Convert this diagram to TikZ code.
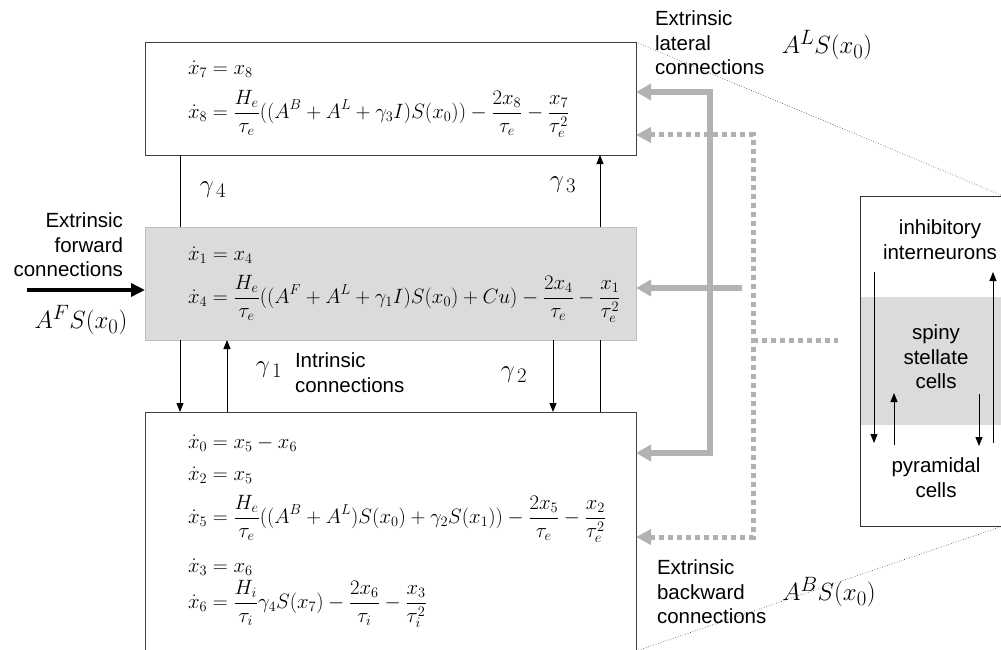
\documentclass[tikz,border=0pt]{standalone}
\usepackage{fontspec}
\newfontfamily\arial{Liberation Sans}
\usetikzlibrary{arrows.meta}
\begin{document}
\begin{tikzpicture}[x=1pt,y=-1pt,
  every node/.style={inner sep=0pt,outer sep=0pt},
  eqbox/.style={draw=black!75,line width=0.9pt,minimum width=491pt},
  eq/.style={anchor=west,font=\fontsize{19.4}{23}\selectfont},
  lab/.style={font=\arial\fontsize{20.5}{24.5}\selectfont},
  big/.style={font=\fontsize{29}{34}\selectfont},
  arr/.style={line width=0.9pt,-{Triangle[length=9pt,width=7pt]}},
  plain/.style={line width=0.9pt},
  gsolid/.style={draw=black!30,line width=6pt,line join=miter},
  gdot/.style={draw=black!30,line width=5pt,dash pattern=on 5pt off 4pt},
  gtip/.style={-{Triangle[length=15pt,width=16pt]}},
  zoomline/.style={black!80,line width=0.6pt,dotted}]
\useasboundingbox (0,0) rectangle (1001,650);
\clip (0,0) rectangle (1001,650);

% boxes
\node[eqbox,fill=white,minimum height=113pt] (top) at (390.5,98.5) {};
\node[eqbox,fill=black!14,draw=black!25,minimum height=113pt] (mid) at (390.5,283.5) {};
\node[eqbox,fill=white,minimum height=296pt] (bot) at (390.5,560) {};
\node[draw=black!80,line width=0.9pt,fill=white,minimum width=143pt,minimum height=330pt] (rb) at (931.5,361) {};
\node[fill=black!14,minimum width=141pt,minimum height=128pt] (band) at (931,361) {};

% equations
\node[eq] (e7) at (188,69) {$\dot{x}_7 = x_8$};
\node[eq] (e8) at (188,114) {$\displaystyle \dot{x}_8 = \frac{H_e}{\tau_e}((A^B + A^L + \gamma_3 I)S(x_0)) - \frac{2x_8}{\tau_e} - \frac{x_7}{\tau_e^2}$};
\node[eq] (e1) at (188,255) {$\dot{x}_1 = x_4$};
\node[eq] (e4) at (188,299) {$\displaystyle \dot{x}_4 = \frac{H_e}{\tau_e}((A^F + A^L + \gamma_1 I)S(x_0) + Cu) - \frac{2x_4}{\tau_e} - \frac{x_1}{\tau_e^2}$};
\node[eq] (e0) at (188,443) {$\dot{x}_0 = x_5 - x_6$};
\node[eq] (e2) at (188,475) {$\dot{x}_2 = x_5$};
\node[eq] (e5) at (188,519) {$\displaystyle \dot{x}_5 = \frac{H_e}{\tau_e}((A^B + A^L)S(x_0) + \gamma_2 S(x_1)) - \frac{2x_5}{\tau_e} - \frac{x_2}{\tau_e^2}$};
\node[eq] (e3) at (188,567) {$\dot{x}_3 = x_6$};
\node[eq] (e6) at (188,604) {$\displaystyle \dot{x}_6 = \frac{H_i}{\tau_i}\gamma_4 S(x_7) - \frac{2x_6}{\tau_i} - \frac{x_3}{\tau_i^2}$};

% intrinsic connections
\draw[plain] ([xshift=35pt]top.south west) -- ([xshift=35pt]mid.north west);
\draw[arr] ([xshift=35pt]mid.south west) -- ([xshift=35pt]bot.north west);
\draw[arr] ([xshift=82pt]bot.north west) -- ([xshift=82pt]mid.south west);
\draw[arr] ([xshift=408pt]mid.south west) -- ([xshift=408pt]bot.north west);
\draw[plain] ([xshift=455pt]bot.north west) -- ([xshift=455pt]mid.south west);
\draw[arr] ([xshift=455pt]mid.north west) -- ([xshift=455pt]top.south west);

\node[big] (g4) at (213,190) {$\gamma_{\,4}$};
\node[big] (g3) at (563,185) {$\gamma_{\,3}$};
\node[big] (g2) at (514,375) {$\gamma_{\,2}$};
\node[big] (g1) at (269,370) {$\gamma_{\,1}$};
\node[lab,align=left,anchor=north west] (intr) at (295,353) {Intrinsic\\connections};

% forward
\coordinate (fw) at (27,290);
\draw[line width=4pt,-{Triangle[length=14pt,width=13pt]}] (fw) -- (fw -| mid.west);
\node[lab,align=right,anchor=north east] (fwd) at (123,213) {Extrinsic\\forward\\connections};
\node[big] (af) at (81,320) {$A^F S(x_0)$};

% extrinsic lateral / backward (grey)
\coordinate (l1) at (710,92);
\coordinate (l2) at (710,453);
\coordinate (lm) at (742,288);
\draw[gsolid,{Triangle[length=15pt,width=16pt]}-{Triangle[length=15pt,width=16pt]}] (l2 -| bot.east) -- (l2) -- (l1) -- (l1 -| top.east);
\draw[gsolid,gtip] (lm) -- (lm -| mid.east);
\coordinate (d1) at (753,135);
\coordinate (d2) at (753,537);
\coordinate (dm) at (838,340);
\draw[gdot,{Triangle[length=15pt,width=15pt]}-{Triangle[length=15pt,width=15pt]}] (d2 -| bot.east) -- (d2) -- (d1) -- (d1 -| top.east);
\draw[gdot] (d1 |- dm) -- (dm);

\node[lab,align=left,anchor=north west] (lat) at (655,11) {Extrinsic\\lateral\\connections};
\node[big] (al) at (827,45) {$A^L S(x_0)$};
\node[lab,align=left,anchor=north west] (bwd) at (657,560) {Extrinsic\\backward\\connections};
\node[big] (ab) at (829,592) {$A^B S(x_0)$};

% zoom lines
\coordinate (zb) at (636,651);
\draw[zoomline] (top.north east) -- (rb.north east);
\draw[zoomline] (zb) -- (rb.south east);

% right box contents
\node[lab,align=center,anchor=north] (inh) at (940,220) {inhibitory\\interneurons};
\node[lab,align=center,anchor=north] (ss) at (936,325) {spiny\\stellate\\cells};
\node[lab,align=center,anchor=north] (pyr) at (936,458) {pyramidal\\cells};
\coordinate (r1a) at (874,272); \coordinate (r1b) at (874,443);
\coordinate (r2a) at (894,445); \coordinate (r2b) at (894,393);
\coordinate (r3a) at (979,394); \coordinate (r3b) at (979,446);
\coordinate (r4a) at (993,443); \coordinate (r4b) at (993,272);
\draw[arr] (r1a) -- (r1b);
\draw[arr] (r2a) -- (r2b);
\draw[arr] (r3a) -- (r3b);
\draw[arr] (r4a) -- (r4b);
\end{tikzpicture}
\end{document}
